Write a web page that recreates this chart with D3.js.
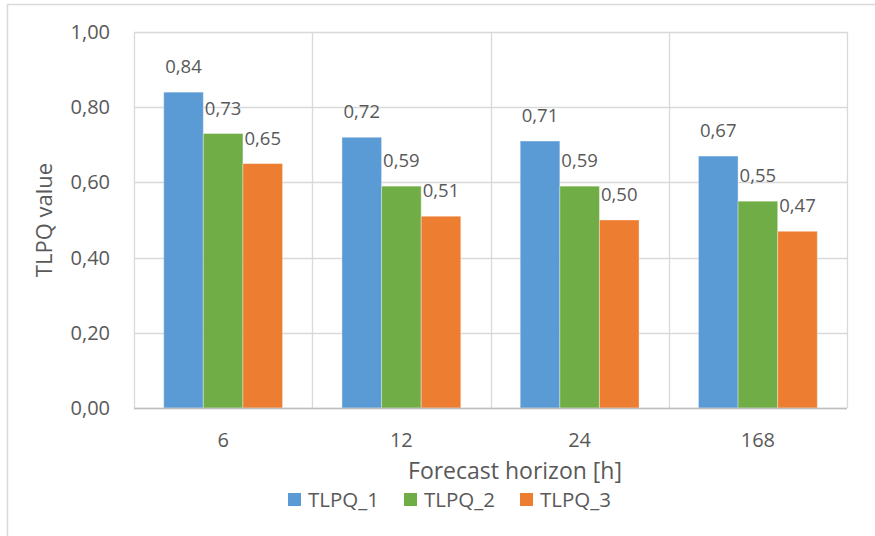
<!DOCTYPE html>
<html>
<head>
<meta charset="utf-8">
<script src="https://cdn.jsdelivr.net/npm/d3@7"></script>
<style>
  html, body { margin: 0; padding: 0; background: #fff; }
  svg { display: block; }
  text { font-family: "Open Sans", Lato, sans-serif; fill: #595959; }
</style>
</head>
<body>
<svg id="chart" width="875" height="536"></svg>
<script>
// Forecast horizons (hours) and TLPQ scores per series
const horizons = ["6", "12", "24", "168"];
const seriesNames = ["TLPQ_1", "TLPQ_2", "TLPQ_3"];
const tlpq1 = [0.84, 0.72, 0.71, 0.67];
const tlpq2 = [0.73, 0.59, 0.59, 0.55];
const tlpq3 = [0.65, 0.51, 0.50, 0.47];
const yTicks = [0, 0.2, 0.4, 0.6, 0.8, 1.0];
const seriesColors = ["#5B9BD5", "#70AD47", "#ED7D31"];

const seriesValues = [tlpq1, tlpq2, tlpq3];
const rows = horizons.map((h, i) => ({
  horizon: h,
  values: seriesNames.map((s, j) => ({ series: s, value: seriesValues[j][i] }))
}));

const svg = d3.select("#chart");
const plot = { left: 134, top: 32, right: 847, bottom: 408 };
const fmt = v => d3.format(".2f")(v).replace(".", ",");

// chart frame
svg.append("path")
  .attr("d", "M7.5,536 V4.5 H875")
  .attr("fill", "none")
  .attr("stroke", "#d9d9d9")
  .attr("stroke-width", 1.5);

// each group: 3 bars plus a gap of 1.5 bar widths split on both sides
const x0 = d3.scaleBand().domain(horizons).range([plot.left, plot.right]);
const bw = x0.bandwidth();
const x1 = d3.scaleBand().domain(seriesNames).range([bw / 6, bw * 5 / 6]);
const y = d3.scaleLinear().domain([0, 1]).range([plot.bottom, plot.top]);

// horizontal gridlines
svg.append("g").selectAll("line").data(yTicks).join("line")
  .attr("x1", plot.left).attr("x2", plot.right)
  .attr("y1", d => Math.round(y(d)) + 0.5).attr("y2", d => Math.round(y(d)) + 0.5)
  .attr("stroke", "#d9d9d9").attr("stroke-width", 1.3);

// vertical category separators
const seps = horizons.map(h => x0(h)).concat([plot.right]);
svg.append("g").selectAll("line").data(seps).join("line")
  .attr("x1", d => Math.round(d) + 0.5).attr("x2", d => Math.round(d) + 0.5)
  .attr("y1", plot.top).attr("y2", plot.bottom)
  .attr("stroke", "#d9d9d9").attr("stroke-width", 1.3);

// y axis labels
const yAxis = d3.axisLeft(y).tickValues(yTicks).tickFormat(fmt).tickSize(0).tickPadding(0);
const gy = svg.append("g").attr("transform", `translate(110,0)`).call(yAxis);
gy.select(".domain").remove();
gy.selectAll("text").style("font-size", "20px").attr("fill", "#595959")
  .style("font-family", "'Open Sans', Lato, sans-serif");

// x axis labels
const xAxis = d3.axisBottom(x0).tickSize(0).tickPadding(0);
const gx = svg.append("g").attr("transform", `translate(0,${plot.bottom})`).call(xAxis);
gx.select(".domain").remove();
gx.selectAll("text").attr("y", 39).attr("dy", null)
  .style("font-size", "20px").attr("fill", "#595959")
  .style("font-family", "'Open Sans', Lato, sans-serif");

// bars
const groups = svg.append("g").selectAll("g").data(rows).join("g")
  .attr("transform", d => `translate(${x0(d.horizon)},0)`);

groups.selectAll("rect").data(d => d.values).join("rect")
  .attr("x", d => x1(d.series))
  .attr("width", x1.bandwidth())
  .attr("y", d => y(d.value))
  .attr("height", d => y(0) - y(d.value))
  .attr("fill", (d, i) => seriesColors[i])
  .attr("stroke", "rgba(255,255,255,0.35)")
  .attr("stroke-width", 1);

// value labels
groups.selectAll("text.val").data(d => d.values).join("text")
  .attr("class", "val")
  .attr("x", d => x1(d.series) + x1.bandwidth() / 2)
  .attr("y", d => y(d.value) - 19)
  .attr("text-anchor", "middle")
  .style("font-size", "18.5px")
  .text(d => fmt(d.value));

// x axis baseline
svg.append("line")
  .attr("x1", plot.left).attr("x2", plot.right)
  .attr("y1", plot.bottom + 0.5).attr("y2", plot.bottom + 0.5)
  .attr("stroke", "#bfbfbf").attr("stroke-width", 1.5);

// axis titles
svg.append("text")
  .attr("x", 515).attr("y", 479)
  .attr("text-anchor", "middle")
  .style("font-size", "23px")
  .text("Forecast horizon [h]");

svg.append("text")
  .attr("transform", "translate(52,220) rotate(-90)")
  .attr("text-anchor", "middle")
  .style("font-size", "22px")
  .text("TLPQ value");

// legend
const legendX = [288, 404, 520];
const legend = svg.append("g").selectAll("g").data(seriesNames).join("g")
  .attr("transform", (d, i) => `translate(${legendX[i]},493)`);
legend.append("rect").attr("width", 13).attr("height", 13)
  .attr("fill", (d, i) => seriesColors[i]);
legend.append("text").attr("x", 20).attr("y", 14)
  .style("font-size", "20.5px")
  .text(d => d);
</script>
</body>
</html>
